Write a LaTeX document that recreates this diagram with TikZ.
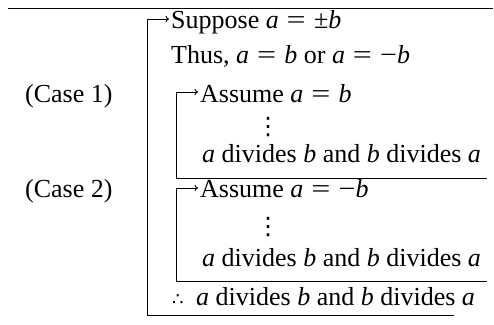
\documentclass[tikz,border=0pt]{standalone}
\usepackage{graphicx}
\usepackage{fontspec}
\setmainfont{Liberation Serif}
\newfontfamily\dvsans{DejaVu Sans}
\usetikzlibrary{arrows.meta}
\newcommand\va{\textit{a}}
\newcommand\vb{\textit{b}}
\newcommand\meq{\hspace{0.3em}\scalebox{1.3}[1]{=}\hspace{0.32em}}
\newcommand\mminus{\scalebox{1.15}[1]{−}}
\newcommand\mpm{±}
\begin{document}
\begin{tikzpicture}[x=1pt,y=-1pt,
  txt/.style={anchor=base west, inner sep=0pt, font=\fontsize{26}{30}\selectfont},
  dts/.style={anchor=center, inner sep=0pt, font=\dvsans\fontsize{24}{26}\selectfont},
  brk/.style={line width=0.9pt},
  arr/.style={brk,-{To[length=3.5pt,width=6.5pt]}},
  rule/.style={line width=1.4pt}]
\useasboundingbox (0,0) rectangle (494,324);
% top rule
\coordinate (r1) at (8,8.5);
\coordinate (r2) at (493,8.5);
\draw[rule] (r1) -- (r2);
% texts
\node[txt] (sup) at (171,28) {Suppose \va\meq\mpm\vb};
\node[txt] (thus) at (171,63) {Thus, \va\meq\vb{} or \va\meq\mminus\vb};
\node[txt] (c1) at (25,102) {(Case 1)};
\node[txt] (as1) at (200,102) {Assume \va\meq\vb};
\node[dts] (d1) at (268,127) {⋮};
\node[txt] (div1) at (202,162) {\va{} divides \vb{} and \vb{} divides \va};
\node[txt] (c2) at (25,197) {(Case 2)};
\node[txt] (as2) at (200,197) {Assume \va\meq\mminus\vb};
\node[dts] (d2) at (268,227) {⋮};
\node[txt] (div2) at (202,266) {\va{} divides \vb{} and \vb{} divides \va};
\node[txt] (con) at (172,305) {\makebox[24pt][l]{\dvsans\fontsize{18}{20}\selectfont ∴}\va{} divides \vb{} and \vb{} divides \va};
% outer bracket
\coordinate (ot) at (147,19);
\coordinate (oc) at (147,315);
\coordinate (oe) at (454,315);
\draw[arr] (oe) -- (oc) -- (ot) -- ([xshift=-2pt]sup.west |- ot);
% inner bracket 1
\coordinate (at) at (176,92);
\coordinate (ac) at (176,178);
\coordinate (ae) at (487,178);
\draw[arr] (ae) -- (ac) -- (at) -- ([xshift=-2pt]as1.west |- at);
% inner bracket 2
\coordinate (bt) at (176,188);
\coordinate (bc) at (176,281);
\coordinate (be) at (487,281);
\draw[arr] (be) -- (bc) -- (bt) -- ([xshift=-2pt]as2.west |- bt);
\end{tikzpicture}
\end{document}
